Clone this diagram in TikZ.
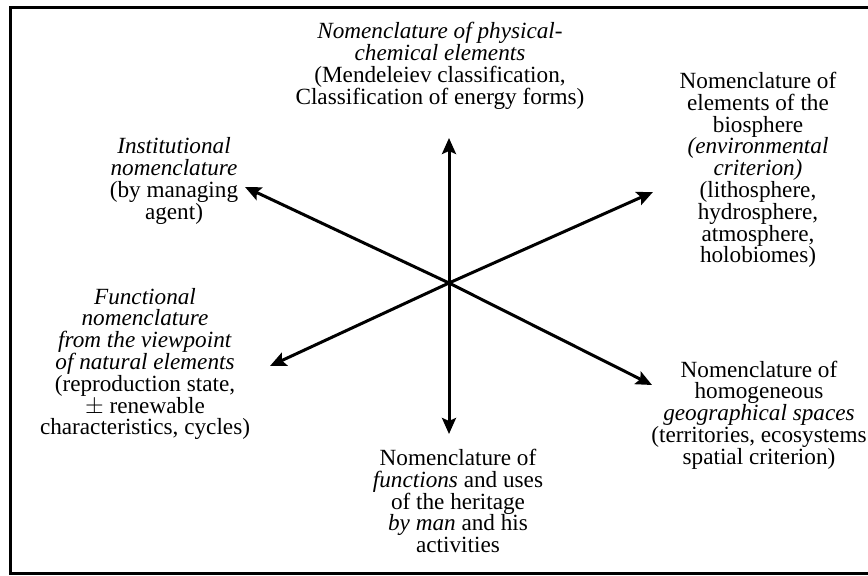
\documentclass[tikz,border=0pt]{standalone}
\usepackage{fontspec}
\setmainfont{Liberation Serif}
\usepackage{tikz}
\usetikzlibrary{arrows.meta}
\tikzset{
  nomen/.style={align=center, inner sep=0pt, font=\fontsize{11.6}{10.9}\selectfont},
  spoke/.style={-{Stealth[length=8pt,width=7pt,inset=1.5pt]}, line width=1.5pt},
  outline/.style={line width=1.5pt}
}

\begin{document}
\begin{tikzpicture}[x=0.5pt, y=-0.5pt]
\useasboundingbox (0,0) rectangle (868,576);
\draw[outline] (868,8) -- (10,8) -- (10,574) -- (868,574);
\coordinate (hub) at (449,283);
\coordinate (upTip) at (449,138);
\coordinate (downTip) at (449,434);
\coordinate (ulTip) at (245,187);
\coordinate (urTip) at (653,192);
\coordinate (llTip) at (270,366);
\coordinate (lrTip) at (652,385);
\foreach \t in {upTip,downTip,ulTip,urTip,llTip,lrTip}
  \draw[spoke] (hub) -- (\t);
\node[nomen] (physchem) at (440,66) {\textit{Nomenclature of physical-}\\
  \textit{chemical elements}\\ (Mendeleiev classification,\\ Classification of energy forms)};
\node[nomen] (biosph) at (758,170) {Nomenclature of\\ elements of the\\ biosphere\\
  \textit{(environmental}\\ \textit{criterion)}\\ (lithosphere,\\ hydrosphere,\\ atmosphere,\\ holobiomes)};
\node[nomen] (instit) at (174,181) {\textit{Institutional}\\ \textit{nomenclature}\\ (by managing\\ agent)};
\node[nomen] (functnl) at (145,364) {\textit{Functional}\\ \textit{nomenclature}\\
  \textit{from the viewpoint}\\ \textit{of natural elements}\\ (reproduction state,\\
  \smash{$\pm$} renewable\\ characteristics, cycles)};
\node[nomen] (uses) at (458,501) {Nomenclature of\\ \textit{functions} and uses\\
  of the heritage\\ \textit{by man} and his\\ activities};
\node[nomen] (geog) at (759,415) {Nomenclature of\\ homogeneous\\ \textit{geographical spaces}\\
  (territories, ecosystems\\ spatial criterion)};
\end{tikzpicture}
\end{document}
